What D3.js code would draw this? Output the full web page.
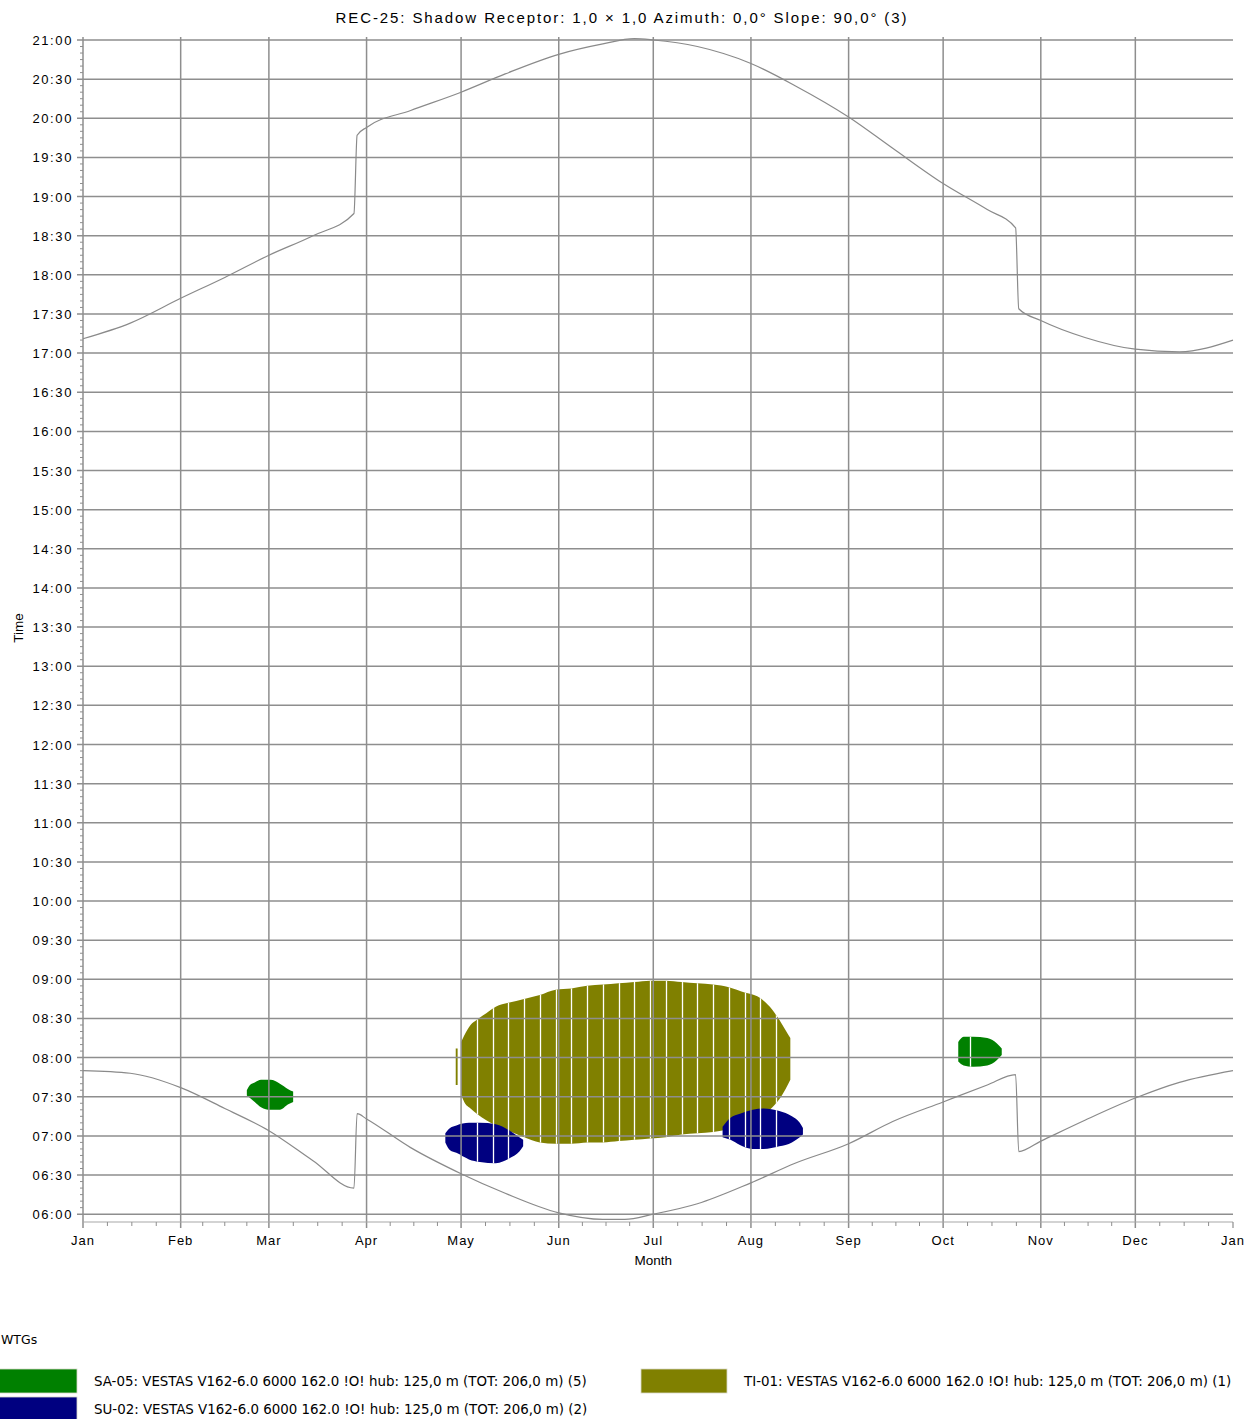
<!DOCTYPE html>
<html><head><meta charset="utf-8">
<script src="https://cdn.jsdelivr.net/npm/d3@7"></script>
<style>
html,body{margin:0;padding:0;background:#fff;}
svg{display:block;}
</style></head><body>
<svg id="chart" width="1244" height="1419"></svg>
<script>
// ---------------- DATA ----------------
const chartTitle = "REC-25: Shadow Receptor: 1,0 \u00d7 1,0  Azimuth: 0,0\u00b0  Slope: 90,0\u00b0 (3)";
const monthLabels = ["Jan","Feb","Mar","Apr","May","Jun","Jul","Aug","Sep","Oct","Nov","Dec","Jan"];
const monthStartDays = [0,31,59,90,120,151,181,212,243,273,304,334,365];
const timeTickLabels = ["06:00","06:30","07:00","07:30","08:00","08:30","09:00","09:30","10:00","10:30","11:00","11:30","12:00","12:30","13:00","13:30","14:00","14:30","15:00","15:30","16:00","16:30","17:00","17:30","18:00","18:30","19:00","19:30","20:00","20:30","21:00"];

// sunset curve (day of year, local time)
const sunsetDays  = [0,15,31,45,59,73,86,87,90,104,120,134,151,165,175,181,195,212,226,243,257,273,287,296,297,304,318,334,348,365];
const sunsetTimes = ["17:11","17:23","17:42","17:58","18:15","18:30","18:47","19:47","19:53","20:06","20:20","20:34","20:49","20:57","21:01","21:00","20:55","20:42","20:25","20:01","19:37","19:10","18:50","18:36","17:34","17:25","17:12","17:03","17:01","17:10"];
// sunrise curve
const sunriseDays  = [0,15,31,45,59,73,86,87,90,104,120,134,151,165,172,181,195,212,226,243,257,273,287,296,297,304,318,334,348,365];
const sunriseTimes = ["07:50","07:48","07:37","07:21","07:04","06:41","06:20","07:17","07:13","06:51","06:31","06:16","06:01","05:56","05:56","06:00","06:08","06:24","06:39","06:54","07:11","07:26","07:39","07:47","06:48","06:56","07:12","07:29","07:41","07:50"];

// shadow periods: TI-01 (olive)
const ti01Days  = [120,121,123,125,128,131,135,140,145,150,155,160,165,170,175,180,185,190,195,200,205,210,214,218,221,223,224.5];
const ti01End   = ["08:12","08:17","08:25","08:29","08:34","08:39","08:42","08:45","08:48","08:52","08:53","08:55","08:56","08:57","08:58","08:59","08:59","08:58","08:57","08:56","08:54","08:50","08:47","08:39","08:29","08:21","08:15"];
const ti01Start = ["07:32","07:26","07:21","07:17","07:12","07:08","07:04","06:59","06:55","06:54","06:54","06:55","06:55","06:56","06:57","06:58","06:59","07:01","07:02","07:03","07:05","07:08","07:12","07:20","07:28","07:36","07:43"];
const ti01bDays  = [118.3,118.9];
const ti01bEnd   = ["08:07","08:07"];
const ti01bStart = ["07:39","07:39"];

// SU-02 (navy)
const su02aDays  = [115,116.5,118.5,122.5,126,131,135.5,138.5,139.7];
const su02aEnd   = ["07:02","07:06","07:08","07:10","07:10","07:09","07:04","06:59","06:57"];
const su02aStart = ["06:55","06:49","06:47","06:42","06:40","06:39","06:43","06:48","06:52"];
const su02bDays  = [203,205.5,208.5,212.5,216,221,225,227.5,228.5];
const su02bEnd   = ["07:07","07:14","07:17","07:20","07:21","07:19","07:15","07:10","07:06"];
const su02bStart = ["06:59","06:57","06:53","06:50","06:50","06:52","06:55","06:59","07:01"];

// SA-05 (green)
const sa05aDays  = [52,53,54.5,56.5,59.5,62.5,65,66.7];
const sa05aEnd   = ["07:35","07:39","07:41","07:43","07:43","07:40","07:36","07:34"];
const sa05aStart = ["07:31","07:29","07:26","07:22","07:20","07:20","07:24","07:26"];
const sa05bDays  = [277.8,279.5,282.5,287,290,291.6];
const sa05bEnd   = ["08:12","08:16","08:16","08:15","08:11","08:07"];
const sa05bStart = ["07:57","07:54","07:53","07:54","07:58","08:02"];

// days without a computed shadow column (white stripes)
const gapDays = [125,130,135,140,145,150,155,160,165,170,175,180,185,190,195,200,205,210,215,220,281.5];

const legendTitle = "WTGs";
const legendNames = ["SA-05: VESTAS V162-6.0 6000 162.0 !O! hub: 125,0 m (TOT: 206,0 m) (5)",
                     "SU-02: VESTAS V162-6.0 6000 162.0 !O! hub: 125,0 m (TOT: 206,0 m) (2)",
                     "TI-01: VESTAS V162-6.0 6000 162.0 !O! hub: 125,0 m (TOT: 206,0 m) (1)"];
const legendColors = ["#008000","#000080","#808000"];

// ---------------- DRAW ----------------
const hm = s => { const [h,m] = s.split(":").map(Number); return h + m/60; };
const svg = d3.select("#chart");
svg.append("rect").attr("width",1244).attr("height",1419).attr("fill","#fff");

const x = d3.scaleLinear().domain([0,365]).range([83,1233]);
const y = d3.scaleLinear().domain([21,5.9]).range([40,1222]);
const gridColor = "#8e8e8e";
const FONT = "'Liberation Sans', Arial, sans-serif";

const blobs = [
  {days:ti01Days, end:ti01End, start:ti01Start, color:legendColors[2]},
  {days:ti01bDays, end:ti01bEnd, start:ti01bStart, color:legendColors[2]},
  {days:su02aDays, end:su02aEnd, start:su02aStart, color:legendColors[1]},
  {days:su02bDays, end:su02bEnd, start:su02bStart, color:legendColors[1]},
  {days:sa05aDays, end:sa05aEnd, start:sa05aStart, color:legendColors[0]},
  {days:sa05bDays, end:sa05bEnd, start:sa05bStart, color:legendColors[0]}
];
const area = d3.area()
  .x(d => x(d.day)).y0(d => y(d.s)).y1(d => y(d.e))
  .curve(d3.curveMonotoneX);
const blobData = blobs.map(b => b.days.map((d,i) => ({day:d, s:hm(b.start[i]), e:hm(b.end[i])})));

const defs = svg.append("defs");
const clip = defs.append("clipPath").attr("id","blobclip");
blobData.forEach(bd => clip.append("path").attr("d", area(bd)));

const gBlobs = svg.append("g");
blobs.forEach((b,i) => {
  gBlobs.append("path").attr("d", area(blobData[i])).attr("fill", b.color);
});
// white stripes
svg.append("g").attr("clip-path","url(#blobclip)")
  .selectAll("line").data(gapDays).join("line")
  .attr("x1", d => Math.round(x(d)) + 0.5).attr("x2", d => Math.round(x(d)) + 0.5)
  .attr("y1", y(10)).attr("y2", y(5.9))
  .attr("stroke","#fff").attr("stroke-width",1.3);

// grid
const timeVals = timeTickLabels.map(hm);
const gGrid = svg.append("g").attr("stroke", gridColor).attr("stroke-width", 1.5);
gGrid.selectAll("line.h").data(timeVals).join("line").attr("class","h")
  .attr("x1", 77).attr("x2", x(365)).attr("y1", d => y(d)).attr("y2", d => y(d));
gGrid.selectAll("line.v").data(monthStartDays.slice(1,12)).join("line").attr("class","v")
  .attr("x1", d => x(d)).attr("x2", d => x(d)).attr("y1", y(21) - 3).attr("y2", y(5.9) + 6);

// axes
const gAx = svg.append("g").attr("stroke", "#8e8e8e");
gAx.append("line").attr("x1", x(0)).attr("x2", x(0)).attr("y1", y(21)-3).attr("y2", y(5.9)+6).attr("stroke-width",1.5);
gAx.append("line").attr("x1", x(0)).attr("x2", x(365)).attr("y1", y(5.9)).attr("y2", y(5.9)).attr("stroke-width",1.2).attr("stroke","#a8a8a8");
gAx.append("line").attr("x1", x(365)).attr("x2", x(365)).attr("y1", y(5.9)).attr("y2", y(5.9)+6).attr("stroke-width",1.2);
// minor y ticks every 5 min
const minorY = d3.range(5.9 + 1/60, 21.001, 1/12).map(v => Math.round(v*12)/12).filter(v => v >= 5.92 && Math.abs(v*2 - Math.round(v*2)) > 0.01);
gAx.selectAll("line.my").data(minorY).join("line").attr("class","my")
  .attr("x1", x(0)-3).attr("x2", x(0)).attr("y1", d => y(d)).attr("y2", d => y(d)).attr("stroke-width",1);
// minor x ticks: quarter months
const minorX = [];
for (let i = 0; i < 12; i++) {
  const s = monthStartDays[i], L = monthStartDays[i+1] - s;
  for (let k = 1; k < 4; k++) minorX.push(s + L*k/4);
}
gAx.selectAll("line.mx").data(minorX).join("line").attr("class","mx")
  .attr("x1", d => x(d)).attr("x2", d => x(d)).attr("y1", y(5.9)).attr("y2", y(5.9)+4).attr("stroke-width",1);

// curves
const line = d3.line().x(d => x(d[0])).y(d => y(d[1])).curve(d3.curveMonotoneX);
svg.append("path").attr("d", line(sunsetDays.map((d,i) => [d, hm(sunsetTimes[i])])))
  .attr("fill","none").attr("stroke","#8a8a8a").attr("stroke-width",1.2);
svg.append("path").attr("d", line(sunriseDays.map((d,i) => [d, hm(sunriseTimes[i])])))
  .attr("fill","none").attr("stroke","#8a8a8a").attr("stroke-width",1.2);

// labels
const gT = svg.append("g").attr("font-family", FONT).attr("fill","#000");
gT.selectAll("text.yl").data(timeTickLabels).join("text").attr("class","yl")
  .attr("x", 73).attr("y", d => y(hm(d)) + 5).attr("text-anchor","end")
  .attr("font-size", 13).attr("letter-spacing", 1.6).text(d => d);
gT.selectAll("text.xl").data(monthLabels).join("text").attr("class","xl")
  .attr("x", (d,i) => x(monthStartDays[i])).attr("y", 1245).attr("text-anchor","middle")
  .attr("font-size", 13).attr("letter-spacing", 1).text(d => d);
gT.append("text").attr("x", x(181)).attr("y", 1265).attr("text-anchor","middle")
  .attr("font-size", 13.5).text("Month");
gT.append("text").attr("transform","translate(23,628) rotate(-90)").attr("text-anchor","middle")
  .attr("font-size", 13.5).text("Time");
gT.append("text").attr("x", 622).attr("y", 23).attr("text-anchor","middle")
  .attr("font-size", 15).attr("letter-spacing", 1.9).text(chartTitle);

// legend
const LFONT = "'DejaVu Sans', Verdana, sans-serif";
svg.append("text").attr("x", 1).attr("y", 1344).attr("font-family", LFONT)
  .attr("font-size", 12.5).text(legendTitle);
const legendPos = [[-9,1369],[-9,1397],[641,1369]];
legendNames.forEach((n,i) => {
  const [lx,ly] = legendPos[i];
  svg.append("rect").attr("x", lx).attr("y", ly).attr("width", 86).attr("height", 24)
    .attr("fill", legendColors[i]).attr("stroke","#d8d8c8").attr("stroke-width",0.8);
  svg.append("text").attr("x", lx + 103).attr("y", ly + 17).attr("font-family", LFONT)
    .attr("font-size", 13.4).attr("fill","#000").text(n);
});
</script>
</body></html>
